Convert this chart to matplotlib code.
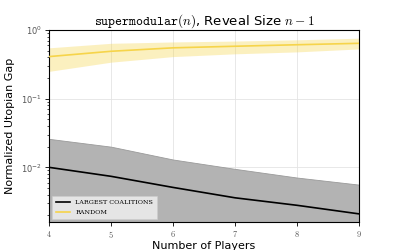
import numpy as np
import matplotlib
matplotlib.use("Agg")
import matplotlib.pyplot as plt

# values
players = [4, 5, 6, 7, 8, 9]

largest_mean = [1.0e-2, 7.4e-3, 5.1e-3, 3.6e-3, 2.8e-3, 2.1e-3]
largest_upper = [2.6e-2, 2.0e-2, 1.3e-2, 9.5e-3, 7.1e-3, 5.6e-3]
largest_lower = [1.0e-3, 9.0e-4, 8.0e-4, 7.0e-4, 6.0e-4, 5.0e-4]

random_mean = [0.41, 0.49, 0.55, 0.58, 0.61, 0.64]
random_upper = [0.55, 0.64, 0.67, 0.69, 0.72, 0.76]
random_lower = [0.25, 0.34, 0.41, 0.45, 0.48, 0.53]

plt.rcParams.update({
    "mathtext.fontset": "cm",
    "font.family": "DejaVu Sans",
    "font.size": 8,
})

fig = plt.figure(figsize=(3.99, 2.5), dpi=100)
ax = fig.add_axes([0.123, 0.112, 0.777, 0.768])

gray = "#b3b3b3"
gold = "#f6d44a"

ax.fill_between(players, largest_lower, largest_upper, color=gray, lw=0.6,
                edgecolor="#9a9a9a", zorder=2)
ax.plot(players, largest_mean, color="black", lw=1.2, label="LARGEST COALITIONS", zorder=3)

ax.fill_between(players, random_lower, random_upper, color=gold, alpha=0.35, lw=0, zorder=2)
ax.plot(players, random_mean, color=gold, lw=1.2, label="RANDOM", zorder=3)

ax.set_yscale("log")
ax.set_xlim(4, 9)
ax.set_ylim(1.6e-3, 1.0)
ax.set_xticks(players)
ax.set_xticklabels([f"${p}$" for p in players])
ax.tick_params(labelsize=6, width=0.6, length=3, pad=2)
ax.tick_params(which="minor", width=0.5, length=1.8)
for lbl in ax.get_xticklabels() + ax.get_yticklabels():
    lbl.set_color("#555555")

ax.grid(True, which="major", color="#e4e4e4", lw=0.6, zorder=0)
for s in ax.spines.values():
    s.set_linewidth(0.8)

ax.set_title(r"$\mathtt{supermodular}(n)$, Reveal Size $n-1$", fontsize=9.5, pad=4)
ax.set_xlabel("Number of Players", fontsize=8, labelpad=1)
ax.set_ylabel("Normalized Utopian Gap", fontsize=8)
ax.yaxis.set_label_coords(-0.11, 0.5)

leg = ax.legend(loc="lower left", prop={"family": "DejaVu Serif", "size": 4.6},
                frameon=True, fancybox=False, handlelength=2.2, borderpad=0.6,
                labelspacing=0.7)
leg.get_frame().set_facecolor("#f2f2f2")
leg.get_frame().set_edgecolor("#cccccc")
leg.get_frame().set_linewidth(0.5)

fig.savefig("out.png", dpi=100)
